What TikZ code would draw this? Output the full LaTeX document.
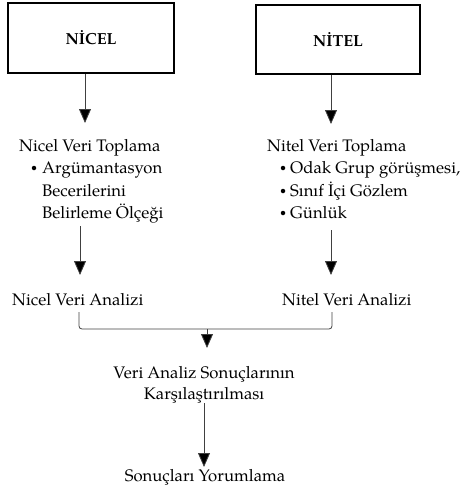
\documentclass[tikz,border=0pt]{standalone}
\usepackage{fontspec}
\setmainfont{TeX Gyre Pagella}
\usetikzlibrary{arrows.meta}
\begin{document}
\begin{tikzpicture}[x=1pt,y=-1pt,
  txt/.style={inner sep=0pt,font=\fontsize{16.7}{20}\selectfont},
  hbox/.style={draw,line width=1.6pt,inner sep=0pt,font=\fontsize{16}{20}\selectfont\bfseries},
  bul/.style={fill=black,circle,inner sep=0pt,minimum size=4.5pt},
  arr/.style={draw=black!75,line width=0.8pt,-{Triangle[width=12pt,length=14pt,fill=black]}},
  ln/.style={draw=black!75,line width=0.8pt}]
\useasboundingbox (0,0) rectangle (459,488);
% boxes
\node[hbox,minimum width=166pt,minimum height=70pt] (nicel) at (91,38) {N\.{I}CEL};
\node[hbox,minimum width=164pt,minimum height=69pt] (nitel) at (338,39.5) {N\.{I}TEL};
% left column
\node[txt,anchor=base west] (nvt) at (19,151) {Nicel Veri Toplama};
\node[txt,anchor=base west] (lb1) at (42,173) {Argümantasyon};
\node[txt,anchor=base west] (lb2) at (42,196) {Becerilerini};
\node[txt,anchor=base west] (lb3) at (42,218) {Belirleme Ölçeği};
\node[bul] (lbu) at (34,168) {};
% right column
\node[txt,anchor=base west] (ntt) at (267,151) {Nitel Veri Toplama};
\node[txt,anchor=base west] (rb1) at (290,173) {Odak Grup görüşmesi,};
\node[txt,anchor=base west] (rb2) at (290,196) {Sınıf İçi Gözlem};
\node[txt,anchor=base west] (rb3) at (290,218) {Günlük};
\node[bul] (rbu1) at (283,168) {};
\node[bul] (rbu2) at (283,191) {};
\node[bul] (rbu3) at (283,213) {};
% analysis
\node[txt,anchor=base west] (nva) at (12,305) {Nicel Veri Analizi};
\node[txt,anchor=base west] (nta) at (282,305) {Nitel Veri Analizi};
\node[txt,anchor=base] (vas) at (204,378) {Veri Analiz Sonuçlarının};
\node[txt,anchor=base] (kar) at (204,399) {Karşılaştırılması};
\node[txt,anchor=base] (syr) at (205,481) {Sonuçları Yorumlama};
% coordinates
\coordinate (t1) at (85,123);
\coordinate (t2) at (331,124);
\coordinate (m1s) at (80,226);
\coordinate (m1) at (80,275);
\coordinate (m2s) at (331,230);
\coordinate (m2) at (331,275);
\coordinate (bl) at (79,312);
\coordinate (br) at (332,312);
\coordinate (bm) at (207,329);
\coordinate (bt) at (207,348);
\coordinate (ls) at (204,403);
\coordinate (lt) at (204,467);
% arrows
\draw[arr] (nicel.south -| t1) -- (t1);
\draw[arr] (nitel.south -| t2) -- (t2);
\draw[arr] (m1s) -- (m1);
\draw[arr] (m2s) -- (m2);
\draw[ln,rounded corners=3pt] (bl) |- (bm) -| (br);
\draw[arr] (bm) -- (bt);
\draw[arr] (ls) -- (lt);
\end{tikzpicture}
\end{document}
